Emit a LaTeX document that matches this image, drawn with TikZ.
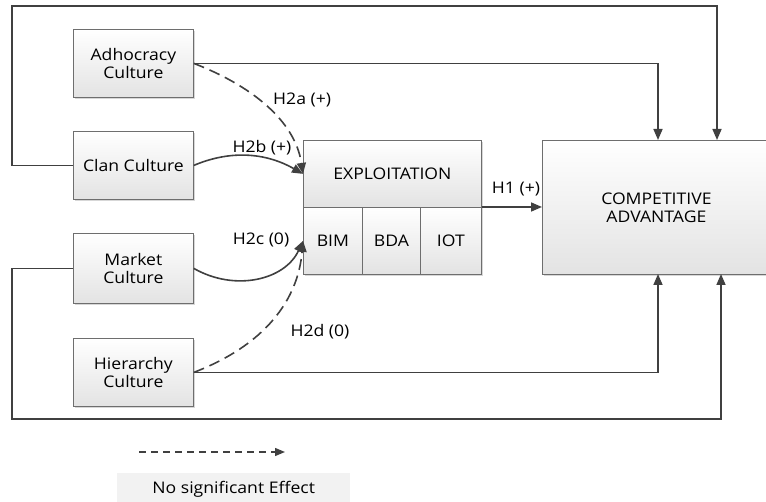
\documentclass[tikz,border=0pt]{standalone}
\usepackage{fontspec}
\setmainfont{Open Sans}[FakeStretch=1.1]
\usetikzlibrary{arrows.meta,shadows}
\definecolor{ln}{HTML}{404040}
\definecolor{bd}{HTML}{6E6E6E}
\begin{document}
\begin{tikzpicture}[x=1pt,y=-1pt,
  box/.style={draw=bd, line width=0.8pt, top color=white, bottom color=gray!22,
    drop shadow={shadow xshift=2pt,shadow yshift=-2pt,fill=gray!45,opacity=0.7},
    anchor=north west, inner sep=0pt, align=center,
    font=\fontsize{16}{18}\selectfont, text=black},
  conn/.style={draw=ln, line width=1.6pt, -{Triangle[length=11pt,width=9pt]}},
  dashconn/.style={conn, dash pattern=on 11pt off 6pt},
  lbl/.style={font=\fontsize{16}{18}\selectfont, text=black, inner sep=0pt}]
\useasboundingbox (0,0) rectangle (766,502);
% boxes
\node[box, minimum width=120pt, minimum height=68pt] (adh) at (73,29) {Adhocracy\\Culture};
\node[box, minimum width=120pt, minimum height=68pt] (clan) at (73,131) {Clan Culture};
\node[box, minimum width=120pt, minimum height=70pt] (mkt) at (73,233) {Market\\Culture};
\node[box, minimum width=120pt, minimum height=68pt] (hier) at (73,338) {Hierarchy\\Culture};
\node[box, minimum width=178pt, minimum height=67pt] (expl) at (303,140) {EXPLOITATION};
\node[box, minimum width=59pt, minimum height=67pt] (bim) at (303,207) {BIM};
\node[box, minimum width=58pt, minimum height=67pt] (bda) at (362,207) {BDA};
\node[box, minimum width=61pt, minimum height=67pt] (iot) at (420,207) {IOT};
\node[box, minimum width=228pt, minimum height=134pt] (ca) at (542,140) {COMPETITIVE\\ADVANTAGE};
% routing coordinates
\coordinate (tl) at (12,6);
\coordinate (bl) at (12,419);
\coordinate (caTa) at (658,140);
\coordinate (caTb) at (717,140);
\coordinate (caBa) at (658,274);
\coordinate (caBb) at (721,274);
% orthogonal connectors
\draw[conn] (adh.east) -| (caTa);
\draw[conn] (clan.west) -| (tl) -| (caTb);
\draw[conn] (mkt.west) -| (bl) -| (caBb);
\draw[conn] (hier.east) -| (caBa);
\draw[conn] (iot.north east) -- (ca.west |- iot.north east);
% curved connectors
\draw[dashconn] (adh.east) .. controls (250,85) and (295,120) .. (expl.west);
\draw[conn] (clan.east) .. controls (235,148) and (270,155) .. (expl.west);
\draw[conn] (mkt.east) .. controls (235,292) and (285,280) .. (bim.west);
\draw[dashconn] (hier.east) .. controls (265,345) and (298,300) .. (bim.west);
% labels
\node[lbl, anchor=west] (l2a) at (273,100) {H2a (+)};
\node[lbl] (l2b) at (262,148) {H2b (+)};
\node[lbl] (l2c) at (261,240) {H2c (0)};
\node[lbl] (l2d) at (320,332) {H2d (0)};
\node[lbl] (l1) at (516,189) {H1 (+)};
% legend
\coordinate (la) at (139,452);
\coordinate (lb) at (285,452);
\draw[draw=ln, line width=1.3pt, dash pattern=on 7pt off 5pt, -{Triangle[length=10pt,width=8pt]}] (la) -- (lb);
\node[fill=gray!10, minimum width=233pt, minimum height=32pt, anchor=north west, font=\fontsize{16}{18}\selectfont] (leg) at (117,473) {No significant Effect};
\end{tikzpicture}
\end{document}
